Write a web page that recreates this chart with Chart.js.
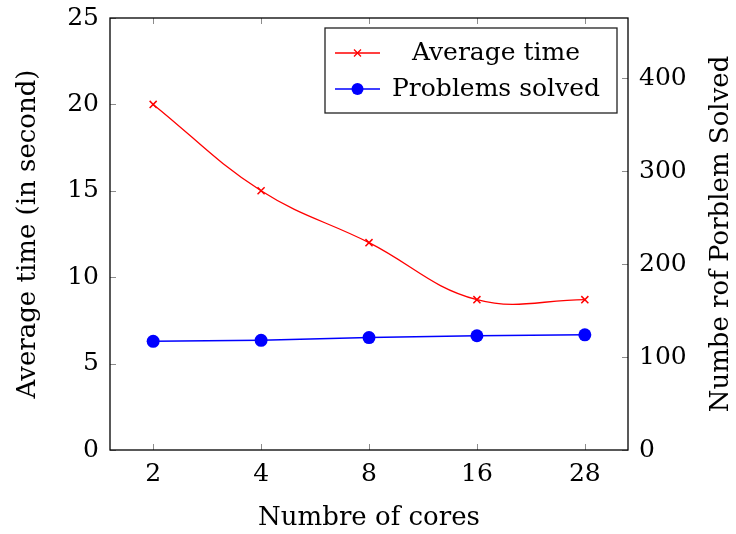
<!DOCTYPE html>
<html>
<head>
<meta charset="utf-8">
<script src="https://cdn.jsdelivr.net/npm/chart.js@4/dist/chart.umd.min.js"></script>
<style>
  html, body { margin: 0; padding: 0; background: #fff; }
  #wrap { width: 736px; height: 534px; }
</style>
</head>
<body>
<div id="wrap"><canvas id="chart" width="736" height="534"></canvas></div>
<script>
const cores = ['2', '4', '8', '16', '28'];
const avgTime = [20, 15, 12, 8.7, 8.7];
const solved = [117, 118, 121, 123, 124];
const leftTicks = [0, 5, 10, 15, 20, 25];
const rightTicks = [0, 100, 200, 300, 400];

const FONT = 'DejaVu Serif';
const FS = 25;
const TS = 26;

// pgfplots-like frame, inner tick marks, right title and legend box
const axisPlugin = {
  id: 'axisDecor',
  beforeDatasetsDraw(chart) {
    const { ctx, chartArea: a, scales } = chart;
    ctx.save();
    ctx.strokeStyle = '#8c8c8c';
    ctx.lineWidth = 1;
    ctx.beginPath();
    cores.forEach((c, i) => {
      const x = Math.round(scales.x.getPixelForValue(i)) + 0.5;
      ctx.moveTo(x, a.bottom); ctx.lineTo(x, a.bottom - 6);
      ctx.moveTo(x, a.top); ctx.lineTo(x, a.top + 6);
    });
    leftTicks.forEach(v => {
      const y = Math.round(scales.y.getPixelForValue(v)) + 0.5;
      ctx.moveTo(a.left, y); ctx.lineTo(a.left + 6, y);
    });
    rightTicks.forEach(v => {
      const y = Math.round(scales.y1.getPixelForValue(v)) + 0.5;
      ctx.moveTo(a.right, y); ctx.lineTo(a.right - 6, y);
    });
    ctx.stroke();
    ctx.strokeStyle = '#000';
    ctx.lineWidth = 1.3;
    ctx.strokeRect(a.left, a.top, a.right - a.left, a.bottom - a.top);
    ctx.restore();
  },
  afterDraw(chart) {
    const { ctx, chartArea: a } = chart;
    ctx.save();
    // right axis title, reads bottom to top
    ctx.translate(721, (a.top + a.bottom) / 2);
    ctx.rotate(-Math.PI / 2);
    ctx.font = TS + 'px "' + FONT + '"';
    ctx.fillStyle = '#000';
    ctx.textAlign = 'center';
    ctx.textBaseline = 'middle';
    ctx.fillText('Numbe rof Porblem Solved', 0, 0);
    ctx.restore();

    // legend
    ctx.save();
    ctx.fillStyle = '#fff';
    ctx.fillRect(325, 28, 292, 85);
    ctx.strokeStyle = '#222';
    ctx.lineWidth = 1.3;
    ctx.strokeRect(325, 28, 292, 85);
    const rows = [
      { label: 'Average time', color: '#ff0000', y: 53, marker: 'cross' },
      { label: 'Problems solved', color: '#0000ff', y: 89, marker: 'dot' }
    ];
    rows.forEach(r => {
      ctx.strokeStyle = r.color;
      ctx.lineWidth = 1.3;
      ctx.beginPath();
      ctx.moveTo(335, r.y); ctx.lineTo(380, r.y);
      ctx.stroke();
      if (r.marker === 'cross') {
        ctx.beginPath();
        ctx.moveTo(354, r.y - 3.5); ctx.lineTo(361, r.y + 3.5);
        ctx.moveTo(361, r.y - 3.5); ctx.lineTo(354, r.y + 3.5);
        ctx.stroke();
      } else {
        ctx.fillStyle = r.color;
        ctx.beginPath();
        ctx.arc(357.5, r.y, 6, 0, Math.PI * 2);
        ctx.fill();
      }
      ctx.fillStyle = '#000';
      ctx.font = FS + 'px "' + FONT + '"';
      ctx.textAlign = 'center';
      ctx.textBaseline = 'middle';
      ctx.fillText(r.label, 496, r.y);
    });
    ctx.restore();
  }
};

new Chart(document.getElementById('chart'), {
  type: 'line',
  data: {
    datasets: [
      {
        label: 'Average time',
        data: avgTime.map((v, i) => ({ x: i, y: v })),
        yAxisID: 'y',
        borderColor: '#ff0000',
        backgroundColor: '#ff0000',
        borderWidth: 1.3,
        tension: 0.4,
        pointStyle: 'crossRot',
        pointRadius: 5,
        pointBorderWidth: 1.5
      },
      {
        label: 'Problems solved',
        data: solved.map((v, i) => ({ x: i, y: v })),
        yAxisID: 'y1',
        borderColor: '#0000ff',
        backgroundColor: '#0000ff',
        borderWidth: 1.5,
        tension: 0,
        pointStyle: 'circle',
        pointRadius: 6.5,
        pointBorderWidth: 0
      }
    ]
  },
  options: {
    responsive: false,
    animation: false,
    layout: { padding: { top: 8, left: 0, right: 0, bottom: 0 } },
    plugins: {
      legend: { display: false },
      tooltip: { enabled: false }
    },
    scales: {
      x: {
        type: 'linear',
        min: -0.4,
        max: 4.4,
        afterBuildTicks: s => { s.ticks = cores.map((c, i) => ({ value: i })); },
        afterFit: s => { s.height = 84; },
        grid: { display: false },
        border: { display: false },
        ticks: {
          callback: v => cores[v],
          color: '#000',
          padding: 1,
          maxRotation: 0,
          font: { family: FONT, size: FS }
        },
        title: {
          display: true,
          text: 'Numbre of cores',
          color: '#000',
          padding: { top: 0, bottom: 0 },
          font: { family: FONT, size: TS }
        }
      },
      y: {
        position: 'left',
        min: 0,
        max: 25,
        afterBuildTicks: s => { s.ticks = leftTicks.map(v => ({ value: v })); },
        afterFit: s => { s.width = 110; },
        grid: { display: false },
        border: { display: false },
        ticks: {
          color: '#000',
          padding: 3,
          font: { family: FONT, size: FS }
        },
        title: {
          display: true,
          text: 'Average time (in second)',
          color: '#000',
          padding: { top: 13, bottom: 0 },
          font: { family: FONT, size: TS }
        }
      },
      y1: {
        position: 'right',
        min: 0,
        max: 465,
        afterBuildTicks: s => { s.ticks = rightTicks.map(v => ({ value: v })); },
        afterFit: s => { s.width = 108; },
        grid: { display: false },
        border: { display: false },
        ticks: {
          color: '#000',
          padding: 3,
          font: { family: FONT, size: FS }
        }
      }
    }
  },
  plugins: [axisPlugin]
});
</script>
</body>
</html>
